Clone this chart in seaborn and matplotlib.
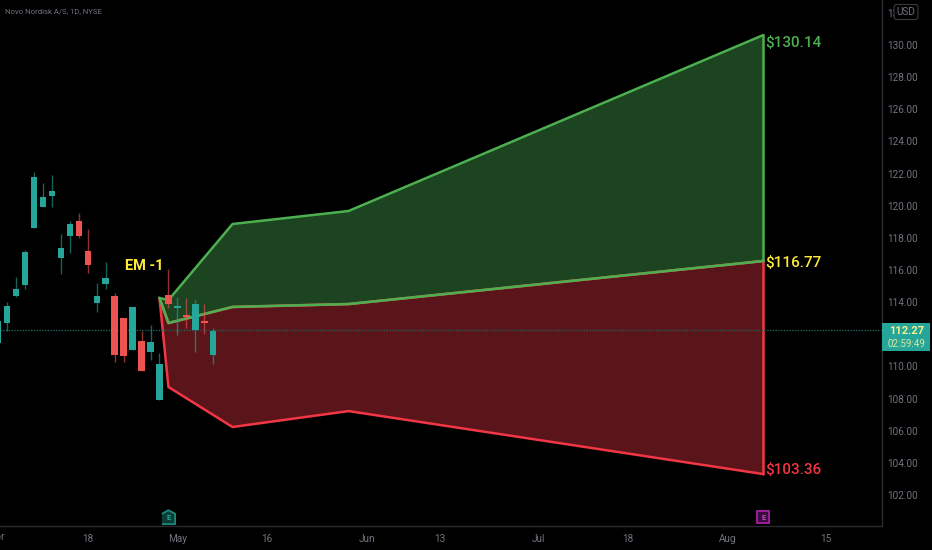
import pandas as pd
import seaborn as sns
import matplotlib.pyplot as plt
from matplotlib.patches import Rectangle
from matplotlib.transforms import blended_transform_factory

# daily candles
highs = [112.84, 113.98, 115.58, 117.24, 122.11, 121.43, 121.93, 118.23, 119.06, 119.56, 118.55, 115.21, 116.47,
         114.54, 113.01, 113.69, 112.20, 112.57, 110.81, 116.08, 114.29, 114.27, 114.13, 113.86, 112.36]
lows = [111.47, 112.20, 114.33, 114.81, 118.61, 119.89, 119.94, 115.74, 117.07, 118.01, 115.83, 113.38, 114.79,
        110.29, 110.29, 111.01, 109.71, 110.39, 107.90, 113.61, 111.95, 112.36, 110.91, 112.01, 110.14]
body_tops = [112.84, 113.77, 114.79, 117.09, 121.80, 120.54, 120.91, 117.34, 118.86, 119.02, 117.18, 114.38, 115.50,
             114.40, 113.01, 113.69, 111.57, 111.51, 110.14, 114.44, 113.79, 113.19, 113.86, 112.82, 112.20]
body_bottoms = [111.47, 112.72, 114.38, 115.04, 118.61, 119.89, 120.62, 116.76, 118.11, 118.11, 116.31, 113.96, 115.12,
                110.68, 110.64, 111.01, 109.71, 110.89, 107.90, 113.90, 113.65, 113.09, 112.26, 112.72, 110.68]
is_up = [1, 1, 1, 1, 1, 1, 1, 1, 1, 0, 0, 1, 1, 0, 0, 1, 0, 1, 1, 0, 1, 0, 1, 0, 1]

# expected move band
band_x = [18, 19, 26.15, 39.1, 85.4]
band_upper = [114.26, 114.13, 118.86, 119.67, 130.62]
band_mid = [114.26, 112.70, 113.70, 113.88, 116.56]
band_lower = [114.26, 108.72, 106.23, 107.22, 103.30]

# 112.00 is hidden behind the last price tag in the original
price_ticks = [102, 104, 106, 108, 110, 114, 116, 118, 120, 122, 124, 126, 128, 130, 132]
date_pos = [10, 20, 30, 41.2, 49.25, 60.3, 70.3, 81.4, 92.4]
date_labels = ['18', 'May', '16', 'Jun', '13', 'Jul', '18', 'Aug', '15']
last_price = 112.27

UP = '#26a69a'
DOWN = '#ef5350'
GREEN = '#4caf50'
RED = '#f23645'
YELLOW = '#ffeb3b'
GREY = '#70737d'

sns.set_theme(style='dark')
plt.rcParams['font.family'] = ['Roboto', 'DejaVu Sans']

fig = plt.figure(figsize=(9.32, 5.5), dpi=100, facecolor='black')
ax = fig.add_axes([0, 24 / 550, 882 / 932, 526 / 550], facecolor='black')

ax.fill_between(band_x, band_mid, band_upper, color='#1c4420', lw=0, zorder=1)
ax.fill_between(band_x, band_lower, band_mid, color='#5a151b', lw=0, zorder=1)

bands = pd.DataFrame({'x': band_x * 3,
                      'price': band_lower + band_mid + band_upper,
                      'band': ['lower'] * 5 + ['mid'] * 5 + ['upper'] * 5})
sns.lineplot(data=bands[bands.band == 'lower'], x='x', y='price', color=RED, lw=1.8, estimator=None, sort=False, ax=ax, zorder=2)
# the red edge sits just below the green middle line
ax.plot(band_x, band_mid, color=DOWN, lw=1.9, zorder=2)
ax.plot([band_x[-1], band_x[-1]], [band_lower[-1], band_mid[-1]], color=RED, lw=1.8, zorder=2)
sns.lineplot(data=bands[bands.band == 'mid'], x='x', y='price', color=GREEN, lw=1.8, estimator=None, sort=False, ax=ax, zorder=3)
sns.lineplot(data=bands[bands.band == 'upper'], x='x', y='price', color=GREEN, lw=1.8, estimator=None, sort=False, ax=ax, zorder=3)
ax.plot([band_x[-1], band_x[-1]], [band_mid[-1], band_upper[-1]], color=GREEN, lw=1.8, zorder=3)

ax.axhline(last_price, color='#1f5e57', lw=1, ls=(0, (1, 1)), zorder=3)

idx = list(range(len(highs)))
colors = [UP if u else DOWN for u in is_up]
ax.vlines(idx, lows, highs, colors=colors, lw=1, alpha=0.6, zorder=4)
ax.bar(idx, [t - b for t, b in zip(body_tops, body_bottoms)], bottom=body_bottoms, width=0.72,
       color=colors, lw=0, zorder=5)

ax.text(16.3, 116.25, 'EM -1', color=YELLOW, fontsize=10.5, fontweight='bold', ha='center', va='center', zorder=6)
ax.text(85.6, band_upper[-1] - 0.5, '$130.14', color=GREEN, fontsize=11, fontweight='medium', va='center', zorder=6)
ax.text(85.6, band_mid[-1] - 0.1, '$116.77', color=YELLOW, fontsize=11, fontweight='medium', va='center', zorder=6)
ax.text(85.6, band_lower[-1] + 0.25, '$103.36', color=RED, fontsize=11, fontweight='medium', va='center', zorder=6)

ax.set_xlim(0.2, 98.64)
ax.set_ylim(100.07, 132.80)
ax.set_xlabel('')
ax.set_ylabel('')
ax.grid(False)
ax.yaxis.tick_right()
ax.set_yticks(price_ticks)
ax.set_yticklabels([f'{p:.2f}' for p in price_ticks])
ax.set_xticks(date_pos)
ax.set_xticklabels(date_labels)
ax.tick_params(axis='both', length=0, labelsize=7.2, labelcolor=GREY)
ax.tick_params(axis='y', pad=4)
ax.tick_params(axis='x', pad=6)
for side in ['top', 'left']:
    ax.spines[side].set_visible(False)
for side in ['right', 'bottom']:
    ax.spines[side].set_color('#2a2a30')
    ax.spines[side].set_linewidth(1)

xt = blended_transform_factory(ax.transData, ax.transAxes)
ax.text(0.76, -11 / 526, 'Apr', color=GREY, fontsize=7.2, ha='right', va='center', transform=xt, clip_on=False)
ax.text(5 / 882, 1 - 11 / 526, 'Novo Nordisk A/S, 1D, NYSE', color=GREY, fontsize=5.6, va='center', transform=ax.transAxes)

# earnings flags
ax.plot([19], [9 / 526], marker=[(-1, -1), (1, -1), (1, 0.55), (0, 1.1), (-1, 0.55)], ms=10.5, mfc='#0d3b35', mec='#1b8a7c',
        mew=1.3, transform=xt, zorder=6, clip_on=False)
ax.text(19, 8.5 / 526, 'E', color='#26a69a', fontsize=5.5, fontweight='bold', ha='center', va='center', transform=xt, zorder=7)
ax.plot([85.4], [9 / 526], marker='s', ms=8.5, mfc='#3b0a3f', mec='#9c1f9c', mew=1.4, transform=xt, zorder=6, clip_on=False)
ax.text(85.4, 8.5 / 526, 'E', color='#c050c0', fontsize=5.5, fontweight='bold', ha='center', va='center', transform=xt, zorder=7)

# last price tag and USD badge on the price scale
tag = Rectangle((882 / 932, 1 - 351 / 550), 48 / 932, 28 / 550, transform=fig.transFigure, fc=UP, ec='none', zorder=10)
fig.add_artist(tag)
fig.text(889 / 932, 1 - 331 / 550, '112.27', color='#f5f08c', fontsize=8, fontweight='bold', va='center', zorder=11)
fig.text(888 / 932, 1 - 344 / 550, '02:59:49', color='#d8e89a', fontsize=7, va='center', zorder=11)
fig.text(906 / 932, 1 - 12 / 550, 'USD', color=GREY, fontsize=7.2, ha='center', va='center', zorder=11,
         bbox=dict(boxstyle='round,pad=0.25', fc='black', ec='#3a3a40', lw=0.8))

plt.savefig('out.png', dpi=100, facecolor='black')
